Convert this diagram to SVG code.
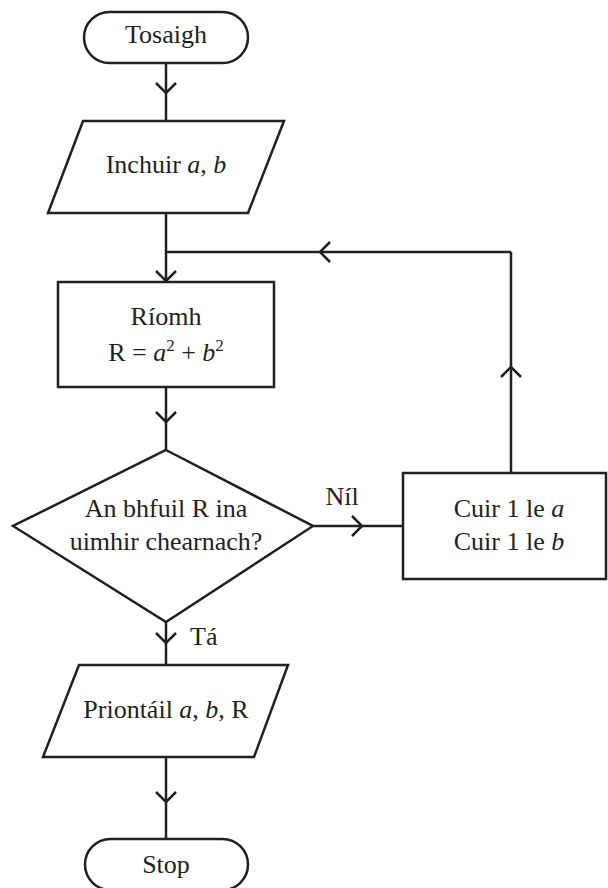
<svg xmlns="http://www.w3.org/2000/svg" width="608" height="888" viewBox="0 0 608 888" font-family="Liberation Serif, serif" font-size="26">
<defs>
<style>
.s{fill:#fff;stroke:#231f20;stroke-width:2.5;stroke-linejoin:miter}
.c{fill:none;stroke:#231f20;stroke-width:2.5}
.t{fill:#231f20;text-anchor:middle}
.i{font-style:italic}
.sup{font-size:17px}
</style>
<marker id="chev" markerUnits="userSpaceOnUse" markerWidth="24" markerHeight="24" viewBox="-12 -12 24 24" refX="0" refY="0" orient="auto">
<path d="M-10,-10 L0,0 L-10,10" fill="none" stroke="#231f20" stroke-width="2.5"/>
</marker>
</defs>
<rect width="608" height="888" fill="#fff"/>
<g id="connectors">
<line class="c" x1="166" y1="63" x2="166" y2="93" marker-end="url(#chev)"/>
<line class="c" x1="166" y1="93" x2="166" y2="121"/>
<line class="c" x1="166" y1="213" x2="166" y2="281" marker-end="url(#chev)"/>
<line class="c" x1="166" y1="387" x2="166" y2="422" marker-end="url(#chev)"/>
<line class="c" x1="166" y1="422" x2="166" y2="450"/>
<line class="c" x1="313" y1="526" x2="362" y2="526" marker-end="url(#chev)"/>
<line class="c" x1="362" y1="526" x2="403" y2="526"/>
<line class="c" x1="511" y1="473" x2="511" y2="367" marker-end="url(#chev)"/>
<line class="c" x1="511" y1="367" x2="511" y2="252"/>
<line class="c" x1="511" y1="252" x2="320" y2="252" marker-end="url(#chev)"/>
<line class="c" x1="320" y1="252" x2="166" y2="252"/>
<line class="c" x1="166" y1="622" x2="166" y2="643" marker-end="url(#chev)"/>
<line class="c" x1="166" y1="643" x2="166" y2="665"/>
<line class="c" x1="166" y1="757" x2="166" y2="802" marker-end="url(#chev)"/>
<line class="c" x1="166" y1="802" x2="166" y2="839"/>
<text class="t" x="342" y="505">Níl</text>
<text class="t" x="190" y="645" style="text-anchor:start">Tá</text>
</g>
<g id="start">
<rect class="s" x="84" y="12" width="164" height="51" rx="25.5"/>
<text class="t" x="166" y="43">Tosaigh</text>
</g>
<g id="input">
<polygon class="s" points="83,121 284,121 248,213 48,213"/>
<text class="t" x="166" y="173">Inchuir <tspan class="i">a</tspan>, <tspan class="i">b</tspan></text>
</g>
<g id="compute">
<rect class="s" x="58" y="282" width="216" height="105"/>
<text class="t" x="166" y="325">Ríomh</text>
<text class="t" x="166" y="361">R = <tspan class="i">a</tspan><tspan class="sup" dy="-10">2</tspan><tspan dy="10"> + </tspan><tspan class="i">b</tspan><tspan class="sup" dy="-10">2</tspan></text>
</g>
<g id="decision">
<polygon class="s" points="166,450 313,526 166,622 13,526"/>
<text class="t" x="166" y="517">An bhfuil R ina</text>
<text class="t" x="166" y="550">uimhir chearnach?</text>
</g>
<g id="increment">
<rect class="s" x="403" y="473" width="203" height="106"/>
<text class="t" x="509" y="517">Cuir 1 le <tspan class="i">a</tspan></text>
<text class="t" x="509" y="550">Cuir 1 le <tspan class="i">b</tspan></text>
</g>
<g id="output">
<polygon class="s" points="79,665 288,665 254,757 43,757"/>
<text class="t" x="166" y="718">Priontáil <tspan class="i">a</tspan>, <tspan class="i">b,</tspan> R</text>
</g>
<g id="stop">
<rect class="s" x="85" y="839" width="163" height="51" rx="25.5"/>
<text class="t" x="166" y="873">Stop</text>
</g>
</svg>
